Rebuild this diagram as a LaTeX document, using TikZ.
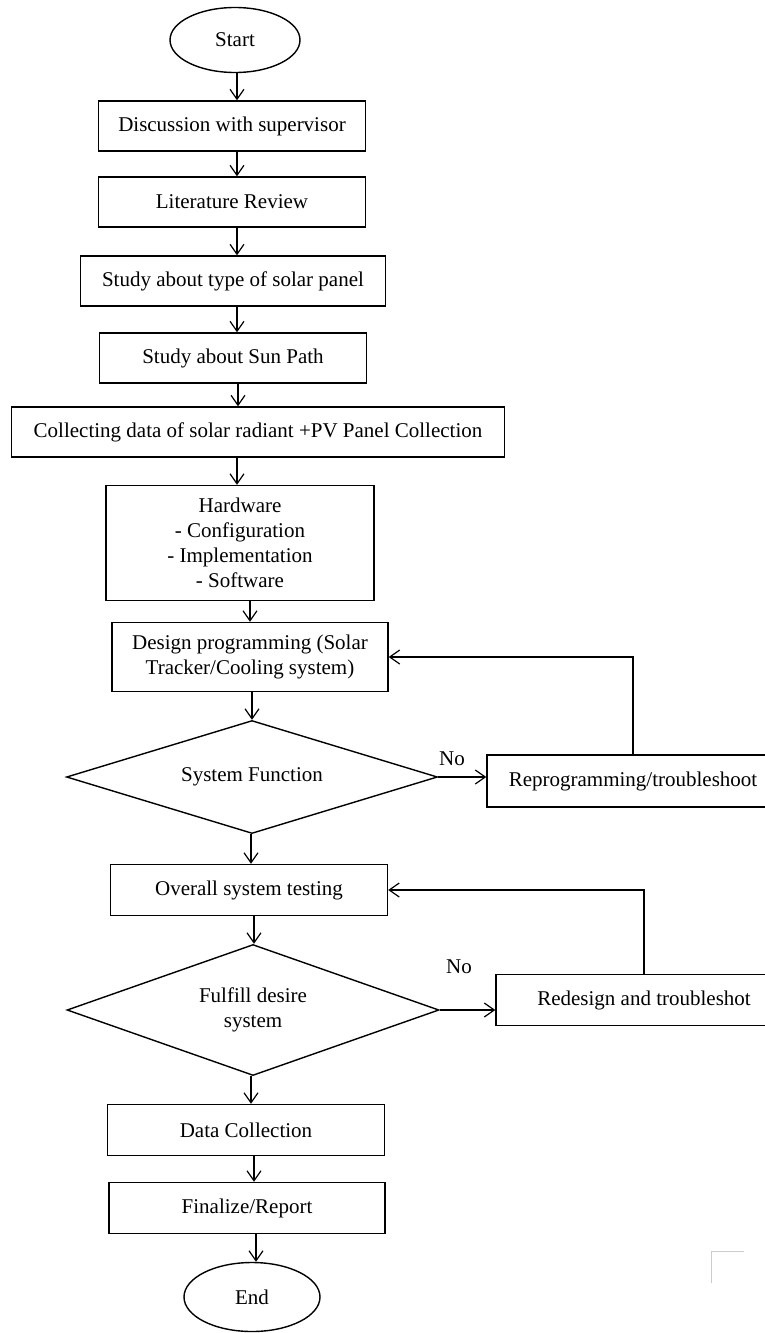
\documentclass[tikz,border=0pt]{standalone}
\usepackage{fontspec}
\setmainfont{Liberation Serif}
\usepackage{tikz}
\usetikzlibrary{positioning, arrows.meta}
\usetikzlibrary{shapes}

\begin{document}
\begin{tikzpicture}[x=0.5pt,y=-0.5pt,
	txt/.style={font=\fontsize{10.5}{12.5}\selectfont},
	box/.style={draw, txt, line width=0.7pt, minimum height=25pt, inner sep=2pt, align=center},
	term/.style={draw, txt, ellipse, line width=0.7pt, inner sep=0pt},
	cond/.style={draw, txt, diamond, line width=0.7pt, inner sep=0pt, align=center},
	arr/.style={-{Straight Barb[length=5pt,width=7pt]}, line width=0.6pt}]
	\useasboundingbox (0,0) rectangle (765,1333);
	% draw node
	\node[term, minimum width=65pt, minimum height=32.5pt] (start) at (235,40) {Start};
	\node[box, minimum width=133.5pt] (disc) at (232,126) {Discussion with supervisor};
	\node[box, minimum width=133.5pt] (lit) at (232,202) {Literature Review};
	\node[box, minimum width=152.5pt] (type) at (233,281) {Study about type of solar panel};
	\node[box, minimum width=133.5pt] (sun) at (233,358) {Study about Sun Path};
	\node[box, minimum width=246.5pt] (coll) at (258,432) {Collecting data of solar radiant +PV Panel Collection};
	\node[box, minimum width=134pt, minimum height=57.5pt] (hw) at (240,543) {Hardware\\- Configuration\\- Implementation\\- Software};
	\node[box, minimum width=138pt, minimum height=34.5pt] (design) at (250,657) {Design programming (Solar\\Tracker/Cooling system)};
	\node[cond, aspect=3.3, minimum width=185.5pt, minimum height=56.5pt] (dec1) at (252,777) {System Function};
	\node[box, minimum width=146pt, minimum height=26pt] (rep) at (633,781) {Reprogramming/troubleshoot};
	\node[box, minimum width=138.5pt, minimum height=25.5pt] (overall) at (249,890) {Overall system testing};
	\node[cond, aspect=2.85, minimum width=186pt, minimum height=65.5pt] (dec2) at (253,1010) {Fulfill desire\\system};
	\node[box, minimum width=148pt, minimum height=25.5pt] (redo) at (644,1000) {Redesign and troubleshot};
	\node[box, minimum width=138.5pt, minimum height=25.5pt] (data) at (246,1130) {Data Collection};
	\node[box, minimum width=138pt, minimum height=25.5pt] (final) at (247,1208) {Finalize/Report};
	\node[term, minimum width=68pt, minimum height=34.5pt] (end) at (252,1297) {End};
	\node[txt] (no1) at (452,759) {No};
	\node[txt] (no2) at (459,967) {No};

	% main flow
	\foreach \a/\b/\x in {start/disc/237, disc/lit/237, lit/type/237, type/sun/237, sun/coll/238, coll/hw/237, hw/design/250, design/dec1/252, dec1/overall/251, overall/dec2/254, dec2/data/251, data/final/254, final/end/256}
	\draw[arr] (\x,0 |- \a.south) -- (\x,0 |- \b.north);

	% loops back
	\draw[arr] (dec1.east) -- (dec1.east -| rep.west);
	\draw[arr] (rep.north) |- (design.east);
	\draw[arr] (dec2.east) -- (dec2.east -| redo.west);
	\draw[arr] (redo.north) |- (overall.east);

	\draw[gray!40, line width=0.4pt] (744,1251) -- (711,1251) -- (711,1283);
\end{tikzpicture}
\end{document}
